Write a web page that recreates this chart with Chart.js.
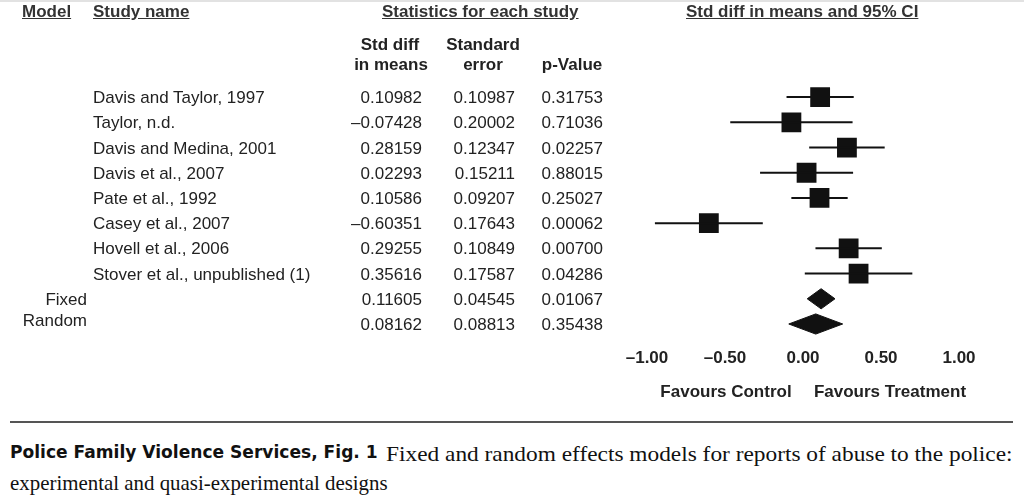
<!DOCTYPE html>
<html>
<head>
<meta charset="utf-8">
<script src="https://cdn.jsdelivr.net/npm/chart.js@4.4.1/dist/chart.umd.min.js"></script>
<style>
  body { margin: 0; background: #fff; width: 1024px; height: 500px; overflow: hidden; position: relative;
         font-family: "Liberation Sans", Arial, sans-serif; color: #222; }
  #plot { position: absolute; left: 0; top: 0; }
  .t { position: absolute; white-space: nowrap; line-height: 20px; font-size: 17px; }
  .h { font-weight: bold; font-size: 17px; text-decoration: underline; color: #333; }
  .b { font-weight: bold; font-size: 17px; }
  .cap { position: absolute; white-space: nowrap; line-height: 24px; transform-origin: 0 50%; color: #111; }
</style>
</head>
<body>
<div style="position:absolute;left:0;top:0;width:1024px;height:2px;background:#e2e2e2"></div>
<canvas id="plot" width="1024" height="410"></canvas>
<div style="position:absolute;left:10px;top:421px;width:1003px;height:2px;background:#555"></div>
<script>
const studies = ['Davis and Taylor, 1997', 'Taylor, n.d.', 'Davis and Medina, 2001', 'Davis et al., 2007',
                 'Pate et al., 1992', 'Casey et al., 2007', 'Hovell et al., 2006', 'Stover et al., unpublished (1)'];
const stdDiff = [0.10982, -0.07428, 0.28159, 0.02293, 0.10586, -0.60351, 0.29255, 0.35616];
const stdErr  = [0.10987, 0.20002, 0.12347, 0.15211, 0.09207, 0.17643, 0.10849, 0.17587];
const pValue  = [0.31753, 0.71036, 0.02257, 0.88015, 0.25027, 0.00062, 0.00700, 0.04286];

const models     = ['Fixed', 'Random'];
const pooledDiff = [0.11605, 0.08162];
const pooledErr  = [0.04545, 0.08813];
const pooledP    = [0.01067, 0.35438];

const Z = 1.96;
const INK = '#111';
const HALF_DIAMOND = 0.4;
const nRows = studies.length + models.length;

// confidence interval lines, one per study
const ciSets = stdDiff.map(function(v, i) {
    return {
        data: [{x: v - Z * stdErr[i], y: i}, {x: v + Z * stdErr[i], y: i}],
        showLine: true, borderColor: INK, borderWidth: 2, pointRadius: 0
    };
});

const squareSet = {
    data: stdDiff.map(function(v, i) { return {x: v, y: i}; }),
    pointStyle: 'rect', pointRadius: 14, backgroundColor: INK, borderWidth: 0
};

// pooled estimates as diamonds
const diamondSets = pooledDiff.map(function(v, k) {
    const row = studies.length + k;
    const lo = v - Z * pooledErr[k], hi = v + Z * pooledErr[k];
    return {
        data: [{x: lo, y: row}, {x: v, y: row - HALF_DIAMOND}, {x: hi, y: row},
               {x: v, y: row + HALF_DIAMOND}, {x: lo, y: row}],
        showLine: true, fill: 'shape', tension: 0,
        backgroundColor: INK, borderColor: INK, borderWidth: 1, pointRadius: 0
    };
});

const chart = new Chart(document.getElementById('plot'), {
    type: 'scatter',
    data: { datasets: ciSets.concat([squareSet], diamondSets) },
    options: {
        responsive: false,
        animation: false,
        events: [],
        layout: { padding: { left: 647, right: 65, top: 84.5, bottom: 29 } },
        plugins: { legend: { display: false }, tooltip: { enabled: false } },
        scales: {
            x: {
                min: -1, max: 1,
                grid: { display: false, drawTicks: false },
                border: { display: false },
                ticks: {
                    stepSize: 0.5, padding: 12, color: '#222',
                    font: { family: 'Liberation Sans', size: 17, weight: 'bold' },
                    callback: function(v) { return v.toFixed(2).replace('-', '\u2013'); }
                }
            },
            y: { type: 'linear', reverse: true, min: -0.5, max: nRows - 0.5, display: false }
        }
    }
});

function fmt(v) { return v.toFixed(5).replace('-', '\u2013'); }

function put(text, x, y, cls, align) {
    const d = document.createElement('div');
    d.className = 't ' + (cls || '');
    d.textContent = text;
    d.style.top = (y - 10) + 'px';
    if (align === 'r') d.style.right = (1024 - x) + 'px';
    else if (align === 'c') { d.style.left = (x - 100) + 'px'; d.style.width = '200px'; d.style.textAlign = 'center'; }
    else d.style.left = x + 'px';
    document.body.appendChild(d);
}

// headers
put('Model', 22, 12, 'h');
put('Study name', 93, 12, 'h');
put('Statistics for each study', 382, 12, 'h');
put('Std diff in means and 95% CI', 686, 12, 'h');
put('Std diff', 390, 45, 'b', 'c');
put('in means', 391, 65, 'b', 'c');
put('Standard', 483, 45, 'b', 'c');
put('error', 483, 65, 'b', 'c');
put('p-Value', 572, 65, 'b', 'c');

// table rows aligned with the plot rows
const yScale = chart.scales.y;
studies.forEach(function(s, i) {
    const y = yScale.getPixelForValue(i) + 1;
    put(s, 93, y);
    put(fmt(stdDiff[i]), 422, y, '', 'r');
    put(fmt(stdErr[i]), 515, y, '', 'r');
    put(fmt(pValue[i]), 603, y, '', 'r');
});
models.forEach(function(m, k) {
    const y = yScale.getPixelForValue(studies.length + k) + 1;
    put(m, 87, k === 1 ? y - 4 : y, '', 'r');
    put(fmt(pooledDiff[k]), 422, y, '', 'r');
    put(fmt(pooledErr[k]), 515, y, '', 'r');
    put(fmt(pooledP[k]), 603, y, '', 'r');
});

const xScale = chart.scales.x;
put('Favours Control', xScale.getPixelForValue(-0.5) + 1, 392, 'b', 'c');
put('Favours Treatment', xScale.getPixelForValue(0.5) + 9, 392, 'b', 'c');

// caption, squeezed to the widths in the figure
function caption(text, x, y, width, font) {
    const d = document.createElement('div');
    d.className = 'cap';
    d.textContent = text;
    d.style.font = font;
    d.style.left = x + 'px';
    d.style.top = (y - 12) + 'px';
    document.body.appendChild(d);
    d.style.transform = 'scaleX(' + (width / d.offsetWidth) + ')';
}
caption('Police Family Violence Services, Fig. 1', 10, 453, 368, 'bold 18px "DejaVu Sans"');
caption('Fixed and random effects models for reports of abuse to the police:', 386, 454, 627, '21px "Liberation Serif"');
caption('experimental and quasi-experimental designs', 10, 483, 378, '21px "Liberation Serif"');
</script>
</body>
</html>
